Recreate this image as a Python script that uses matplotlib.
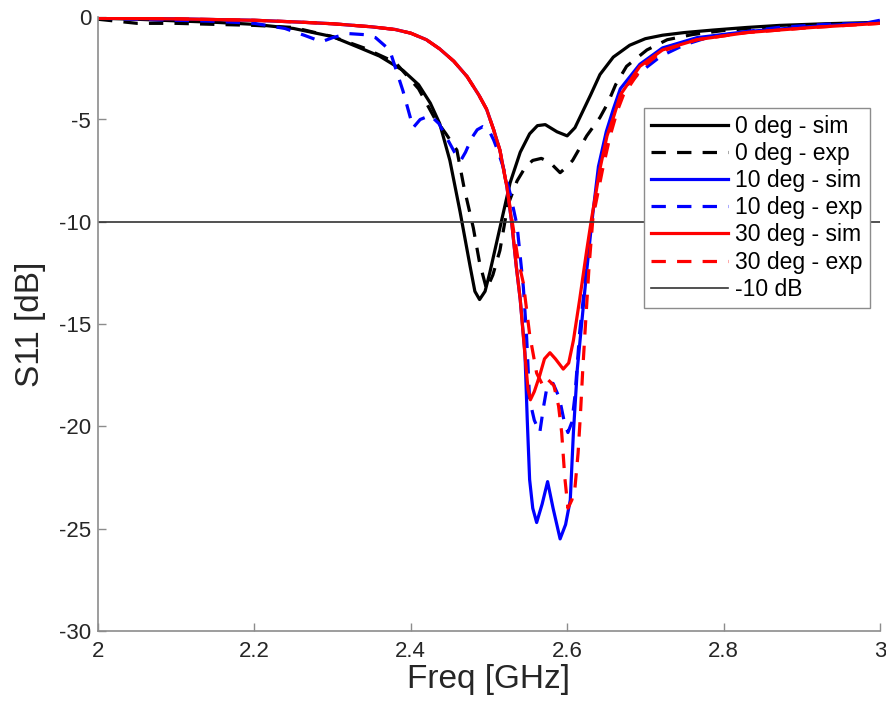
import matplotlib
matplotlib.use("Agg")
import matplotlib.pyplot as plt

plt.rcParams['font.family'] = ['Liberation Sans', 'DejaVu Sans']
plt.rcParams['axes.unicode_minus'] = False

# 0 deg - simulation
f_0sim = [2.00, 2.05, 2.10, 2.15, 2.20, 2.25, 2.30, 2.335, 2.36, 2.39, 2.41, 2.425, 2.437,
          2.45, 2.463, 2.476, 2.482, 2.488, 2.495, 2.501, 2.514, 2.527, 2.540, 2.552, 2.562,
          2.572, 2.587, 2.600, 2.610, 2.620, 2.630, 2.642, 2.659, 2.68, 2.70, 2.722, 2.75,
          2.786, 2.83, 2.872, 2.93, 3.00]
s_0sim = [-0.05, -0.1, -0.18, -0.25, -0.35, -0.55, -0.95, -1.5, -1.9, -2.6, -3.3, -4.2, -5.2,
          -7.0, -9.5, -12.2, -13.4, -13.8, -13.4, -12.5, -10.3, -8.1, -6.6, -5.7, -5.3,
          -5.25, -5.6, -5.8, -5.4, -4.6, -3.8, -2.8, -1.95, -1.37, -1.05, -0.88, -0.75,
          -0.63, -0.5, -0.4, -0.32, -0.25]

# 0 deg - experiment
f_0exp = [2.00, 2.05, 2.10, 2.15, 2.20, 2.25, 2.30, 2.34, 2.38, 2.41, 2.43, 2.445, 2.459,
          2.468, 2.48, 2.488, 2.497, 2.505, 2.514, 2.524, 2.536, 2.547, 2.556, 2.567, 2.578,
          2.591, 2.600, 2.607, 2.625, 2.642, 2.652, 2.662, 2.676, 2.702, 2.728, 2.76, 2.80,
          2.85, 2.90, 2.95, 3.00]
s_0exp = [-0.1, -0.3, -0.3, -0.35, -0.4, -0.5, -0.95, -1.5, -2.2, -3.5, -4.9, -5.7, -6.5,
          -8.3, -10.3, -12.0, -13.3, -12.6, -11.4, -9.2, -8.0, -7.3, -7.0, -6.9, -7.1,
          -7.6, -7.3, -7.0, -5.8, -4.9, -4.2, -3.3, -2.4, -1.6, -1.1, -0.85, -0.65,
          -0.5, -0.4, -0.33, -0.28]

# 10 deg - simulation
f_10sim = [2.00, 2.10, 2.20, 2.258, 2.30, 2.35, 2.38, 2.40, 2.42, 2.437, 2.455, 2.472, 2.487,
           2.497, 2.506, 2.514, 2.523, 2.529, 2.535, 2.540, 2.546, 2.549, 2.552, 2.556,
           2.561, 2.568, 2.575, 2.582, 2.591, 2.598, 2.604, 2.608, 2.613, 2.619, 2.625,
           2.631, 2.640, 2.650, 2.659, 2.668, 2.693, 2.722, 2.766, 2.83, 2.914, 3.00]
s_10sim = [-0.05, -0.08, -0.15, -0.24, -0.32, -0.47, -0.6, -0.78, -1.1, -1.55, -2.15, -2.9,
           -3.8, -4.5, -5.5, -6.5, -8.3, -10.0, -12.2, -13.8, -16.4, -19.7, -22.6, -24.0,
           -24.7, -23.8, -22.7, -24.0, -25.5, -24.8, -23.6, -20.3, -17.2, -14.8, -12.4,
           -10.2, -7.3, -5.6, -4.5, -3.5, -2.3, -1.5, -1.0, -0.7, -0.45, -0.25]

# 10 deg - experiment
f_10exp = [2.00, 2.05, 2.10, 2.15, 2.20, 2.239, 2.265, 2.286, 2.30, 2.32, 2.34, 2.355, 2.373,
           2.39, 2.403, 2.412, 2.425, 2.436, 2.446, 2.456, 2.464, 2.47, 2.478, 2.485, 2.492,
           2.499, 2.506, 2.512, 2.518, 2.527, 2.536, 2.544, 2.548, 2.552, 2.558, 2.565,
           2.570, 2.575, 2.582, 2.590, 2.597, 2.601, 2.606, 2.610, 2.616, 2.625, 2.632,
           2.642, 2.652, 2.662, 2.675, 2.693, 2.72, 2.75, 2.779, 2.83, 2.87, 2.93, 2.98, 3.00]
s_10exp = [-0.05, -0.1, -0.15, -0.2, -0.3, -0.55, -0.9, -1.2, -1.0, -0.8, -0.85, -1.0, -1.6,
           -3.6, -5.4, -5.0, -4.8, -5.2, -5.9, -6.6, -7.0, -6.6, -5.9, -5.5, -5.35,
           -5.45, -6.0, -6.6, -7.3, -8.6, -10.2, -13.2, -15.5, -18.7, -19.7, -20.3,
           -19.0, -17.9, -17.9, -18.6, -19.9, -20.3, -19.8, -18.5, -15.4, -12.2, -9.9,
           -7.5, -5.8, -4.5, -3.4, -2.7, -1.9, -1.35, -1.0, -0.7, -0.5, -0.35, -0.3, -0.15]

# 30 deg - simulation
f_30sim = [2.00, 2.10, 2.20, 2.258, 2.30, 2.35, 2.38, 2.40, 2.42, 2.437, 2.455, 2.472, 2.487,
           2.497, 2.506, 2.514, 2.523, 2.529, 2.535, 2.540, 2.546, 2.550, 2.553, 2.558,
           2.565, 2.571, 2.578, 2.585, 2.595, 2.602, 2.608, 2.616, 2.625, 2.631, 2.642,
           2.651, 2.660, 2.668, 2.693, 2.722, 2.766, 2.83, 2.914, 3.00]
s_30sim = [-0.05, -0.08, -0.15, -0.24, -0.32, -0.47, -0.6, -0.78, -1.1, -1.55, -2.15, -2.9,
           -3.8, -4.5, -5.5, -6.5, -8.3, -10.0, -12.2, -13.8, -16.5, -18.2, -18.7, -18.3,
           -17.5, -16.7, -16.4, -16.7, -17.2, -16.9, -15.8, -13.8, -11.4, -9.9, -7.4,
           -5.8, -4.8, -3.8, -2.4, -1.6, -1.1, -0.75, -0.5, -0.3]

# 30 deg - experiment
f_30exp = [2.00, 2.10, 2.20, 2.258, 2.30, 2.35, 2.38, 2.40, 2.42, 2.437, 2.455, 2.472, 2.487,
           2.497, 2.506, 2.514, 2.523, 2.531, 2.537, 2.544, 2.552, 2.561, 2.569, 2.575,
           2.583, 2.589, 2.593, 2.597, 2.601, 2.606, 2.610, 2.614, 2.617, 2.620, 2.623,
           2.628, 2.633, 2.645, 2.655, 2.664, 2.672, 2.695, 2.722, 2.766, 2.83, 2.914, 3.00]
s_30exp = [-0.05, -0.08, -0.15, -0.24, -0.32, -0.47, -0.6, -0.78, -1.1, -1.55, -2.15, -2.9,
           -3.8, -4.5, -5.5, -6.5, -8.3, -10.3, -11.8, -13.0, -15.5, -17.4, -18.0, -17.7,
           -18.0, -19.0, -20.3, -22.5, -24.0, -23.6, -23.0, -21.3, -19.4, -17.2, -15.3,
           -12.2, -9.8, -7.5, -5.8, -4.6, -3.8, -2.5, -1.65, -1.1, -0.75, -0.5, -0.3]

ref_level = -10
x_ticks = [2, 2.2, 2.4, 2.6, 2.8, 3]
x_tick_labels = ['2', '2.2', '2.4', '2.6', '2.8', '3']
y_ticks = [0, -5, -10, -15, -20, -25, -30]

fig = plt.figure(figsize=(8.87, 7.17), dpi=100)
ax = fig.add_axes([0.1105, 0.12, 0.8815, 0.856])

lw = 2.3
dash = (4.5, 3.5)
ax.plot(f_0sim, s_0sim, color='black', lw=lw, label='0 deg - sim')
ax.plot(f_0exp, s_0exp, color='black', lw=lw, dashes=dash, label='0 deg - exp')
ax.plot(f_10sim, s_10sim, color='#0000ff', lw=lw, label='10 deg - sim')
ax.plot(f_10exp, s_10exp, color='#0000ff', lw=lw, dashes=dash, label='10 deg - exp')
ax.plot(f_30sim, s_30sim, color='#ff0000', lw=lw, label='30 deg - sim')
ax.plot(f_30exp, s_30exp, color='#ff0000', lw=lw, dashes=dash, label='30 deg - exp')
ax.axhline(ref_level, color='#333333', lw=1.2, label='-10 dB')

ax.set_xlim(2, 3)
ax.set_ylim(-30, 0)
ax.set_xticks(x_ticks)
ax.set_xticklabels(x_tick_labels)
ax.set_yticks(y_ticks)

for side in ['top', 'right']:
    ax.spines[side].set_visible(False)
for side in ['left', 'bottom']:
    ax.spines[side].set_color('#8c8c8c')
    ax.spines[side].set_linewidth(1.2)
ax.tick_params(direction='in', length=6, width=1, color='#8c8c8c',
               labelsize=16, labelcolor='#262626')
ax.tick_params(axis='x', pad=7)
ax.tick_params(axis='y', pad=5)

ax.set_xlabel('Freq [GHz]', fontsize=24, color='#262626', labelpad=2)
ax.set_ylabel('S11 [dB]', fontsize=24, color='#262626', labelpad=9)

leg = ax.legend(loc='upper right', bbox_to_anchor=(0.987, 0.852), fontsize=16.5,
                frameon=True, fancybox=False, framealpha=1, edgecolor='#8c8c8c',
                handlelength=3.4, handletextpad=0.3, labelspacing=0.18,
                borderpad=0.3, borderaxespad=0)
leg.get_frame().set_linewidth(1.0)

fig.savefig('out.png', dpi=100)
